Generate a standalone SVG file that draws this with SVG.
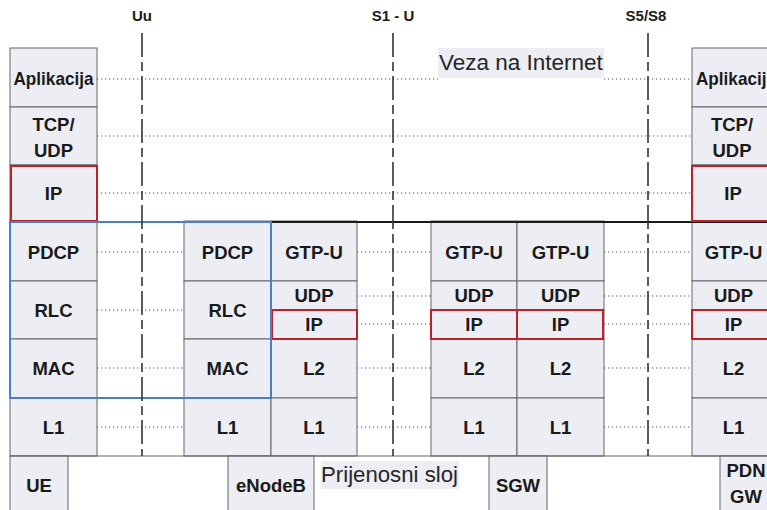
<svg xmlns="http://www.w3.org/2000/svg" width="767" height="510" viewBox="0 0 767 510">
  <style>
    .box { fill: #eceef3; stroke: #666; stroke-width: 1; }
    .ip { fill: none; stroke: #c0202a; stroke-width: 2; }
    .lbl { font-family: "Liberation Sans", Arial, sans-serif; font-weight: bold; font-size: 18.5px; fill: #1a1a1a; text-anchor: middle; }
    .ifc { font-family: "Liberation Sans", Arial, sans-serif; font-weight: bold; font-size: 15px; fill: #1a1a1a; text-anchor: middle; }
    .note { font-family: "Liberation Sans", Arial, sans-serif; font-size: 22.5px; fill: #262626; }
    .peer { stroke: #555; stroke-width: 1.2; stroke-dasharray: 1.2 2.8; fill: none; }
    .iface { stroke: #333; stroke-width: 1.6; stroke-dasharray: 24 5 9 5; fill: none; }
    .edge { stroke: #666; stroke-width: 1; fill: none; }
  </style>

  <rect width="767" height="510" fill="#fff"/>

  <!-- interface labels -->
  <text class="ifc" x="142" y="21">Uu</text>
  <text class="ifc" x="393" y="21">S1 - U</text>
  <text class="ifc" x="646" y="21">S5/S8</text>

  <!-- UE protocol stack -->
  <g id="ue">
    <rect class="box" x="10" y="48" width="87" height="59"/>
    <rect class="box" x="10" y="107" width="87" height="58"/>
    <rect class="box" x="10" y="165" width="87" height="56"/>
    <rect class="box" x="10" y="221" width="87" height="60"/>
    <rect class="box" x="10" y="281" width="87" height="58"/>
    <rect class="box" x="10" y="339" width="87" height="59"/>
    <rect class="box" x="10" y="398" width="87" height="58"/>
    <rect class="box" x="10" y="456" width="58" height="60"/>
    <rect class="ip" x="11" y="166" width="86" height="55"/>
    <text class="lbl" x="53.5" y="85" textLength="80" lengthAdjust="spacingAndGlyphs">Aplikacija</text>
    <text class="lbl" x="53.5" y="131">TCP/</text>
    <text class="lbl" x="53.5" y="157">UDP</text>
    <text class="lbl" x="53.5" y="200">IP</text>
    <text class="lbl" x="53.5" y="258.5">PDCP</text>
    <text class="lbl" x="53.5" y="316.5">RLC</text>
    <text class="lbl" x="53.5" y="375">MAC</text>
    <text class="lbl" x="53.5" y="433.5">L1</text>
    <text class="lbl" x="39" y="492">UE</text>
  </g>

  <!-- eNodeB protocol stack -->
  <g id="enodeb">
    <rect class="box" x="184" y="221" width="87" height="60"/>
    <rect class="box" x="184" y="281" width="87" height="58"/>
    <rect class="box" x="184" y="339" width="87" height="59"/>
    <rect class="box" x="184" y="398" width="87" height="58"/>
    <rect class="box" x="271" y="221" width="86" height="60"/>
    <rect class="box" x="271" y="281" width="86" height="29"/>
    <rect class="box" x="271" y="310" width="86" height="29"/>
    <rect class="box" x="271" y="339" width="86" height="59"/>
    <rect class="box" x="271" y="398" width="86" height="58"/>
    <rect class="box" x="228" y="456" width="86" height="60"/>
    <rect class="ip" x="272" y="310" width="85" height="29"/>
    <text class="lbl" x="227.5" y="258.5">PDCP</text>
    <text class="lbl" x="227.5" y="316.5">RLC</text>
    <text class="lbl" x="227.5" y="375">MAC</text>
    <text class="lbl" x="227.5" y="433.5">L1</text>
    <text class="lbl" x="314" y="258.5">GTP-U</text>
    <text class="lbl" x="314" y="302">UDP</text>
    <text class="lbl" x="314" y="331">IP</text>
    <text class="lbl" x="314" y="375">L2</text>
    <text class="lbl" x="314" y="433.5">L1</text>
    <text class="lbl" x="271" y="492">eNodeB</text>
  </g>

  <!-- SGW protocol stack -->
  <g id="sgw">
    <rect class="box" x="431" y="221" width="86" height="60"/>
    <rect class="box" x="431" y="281" width="86" height="29"/>
    <rect class="box" x="431" y="310" width="86" height="29"/>
    <rect class="box" x="431" y="339" width="86" height="59"/>
    <rect class="box" x="431" y="398" width="86" height="58"/>
    <rect class="box" x="517" y="221" width="87" height="60"/>
    <rect class="box" x="517" y="281" width="87" height="29"/>
    <rect class="box" x="517" y="310" width="87" height="29"/>
    <rect class="box" x="517" y="339" width="87" height="59"/>
    <rect class="box" x="517" y="398" width="87" height="58"/>
    <rect class="box" x="489" y="456" width="58" height="60"/>
    <rect class="ip" x="431" y="310" width="86" height="29"/>
    <rect class="ip" x="517" y="310" width="86" height="29"/>
    <text class="lbl" x="474" y="258.5">GTP-U</text>
    <text class="lbl" x="474" y="302">UDP</text>
    <text class="lbl" x="474" y="331">IP</text>
    <text class="lbl" x="474" y="375">L2</text>
    <text class="lbl" x="474" y="433.5">L1</text>
    <text class="lbl" x="560.5" y="258.5">GTP-U</text>
    <text class="lbl" x="560.5" y="302">UDP</text>
    <text class="lbl" x="560.5" y="331">IP</text>
    <text class="lbl" x="560.5" y="375">L2</text>
    <text class="lbl" x="560.5" y="433.5">L1</text>
    <text class="lbl" x="518" y="492">SGW</text>
  </g>

  <!-- PDN GW protocol stack (runs past the right edge) -->
  <g id="pdngw">
    <rect class="box" x="692" y="48" width="87" height="59"/>
    <rect class="box" x="692" y="107" width="87" height="58"/>
    <rect class="box" x="692" y="165" width="87" height="56"/>
    <rect class="box" x="692" y="221" width="87" height="60"/>
    <rect class="box" x="692" y="281" width="87" height="29"/>
    <rect class="box" x="692" y="310" width="87" height="29"/>
    <rect class="box" x="692" y="339" width="87" height="59"/>
    <rect class="box" x="692" y="398" width="87" height="58"/>
    <rect class="box" x="720" y="456" width="60" height="60"/>
    <rect class="ip" x="692" y="310" width="87" height="29"/>
    <text class="lbl" x="736" y="85" textLength="80" lengthAdjust="spacingAndGlyphs">Aplikacija</text>
    <text class="lbl" x="732" y="131">TCP/</text>
    <text class="lbl" x="732" y="157">UDP</text>
    <text class="lbl" x="733" y="200">IP</text>
    <text class="lbl" x="733.5" y="258.5">GTP-U</text>
    <text class="lbl" x="733.5" y="302">UDP</text>
    <text class="lbl" x="733.5" y="331">IP</text>
    <text class="lbl" x="733.5" y="375">L2</text>
    <text class="lbl" x="733.5" y="433.5">L1</text>
    <text class="lbl" x="746" y="477">PDN</text>
    <text class="lbl" x="746" y="503">GW</text>
  </g>

  <!-- transport and radio band outlines -->
  <g id="bands">
    <line class="edge" x1="10" y1="456" x2="767" y2="456"/>
    <line x1="271" y1="222" x2="767" y2="222" stroke="#1a1a1a" stroke-width="2"/>
    <rect x="10" y="222" width="261" height="176" fill="none" stroke="#4a7ec6" stroke-width="2"/>
    <rect class="ip" x="692" y="166" width="87" height="55"/>
  </g>

  <!-- captions -->
  <g id="captions">
    <rect x="438" y="48" width="166" height="30" fill="#eceef3"/>
    <text class="note" x="439" y="70">Veza na Internet</text>
    <rect x="321" y="461" width="138" height="28" fill="#eceef3"/>
    <text class="note" x="321" y="482" textLength="137" lengthAdjust="spacingAndGlyphs">Prijenosni sloj</text>
  </g>

  <!-- peer-to-peer links and interface boundaries -->
  <g id="connectors">
    <line class="peer" x1="97" y1="79" x2="438" y2="79"/>
    <line class="peer" x1="604" y1="79" x2="692" y2="79"/>
    <line class="peer" x1="97" y1="136" x2="692" y2="136"/>
    <line class="peer" x1="97" y1="193" x2="692" y2="193"/>

    <line class="peer" x1="97" y1="252" x2="184" y2="252"/>
    <line class="peer" x1="97" y1="310" x2="184" y2="310"/>
    <line class="peer" x1="97" y1="368" x2="184" y2="368"/>
    <line class="peer" x1="97" y1="427" x2="184" y2="427"/>

    <line class="peer" x1="357" y1="252" x2="431" y2="252"/>
    <line class="peer" x1="357" y1="296" x2="431" y2="296"/>
    <line class="peer" x1="357" y1="324" x2="431" y2="324"/>
    <line class="peer" x1="357" y1="368" x2="431" y2="368"/>
    <line class="peer" x1="357" y1="427" x2="431" y2="427"/>

    <line class="peer" x1="604" y1="252" x2="692" y2="252"/>
    <line class="peer" x1="604" y1="296" x2="692" y2="296"/>
    <line class="peer" x1="604" y1="324" x2="692" y2="324"/>
    <line class="peer" x1="604" y1="368" x2="692" y2="368"/>
    <line class="peer" x1="604" y1="427" x2="692" y2="427"/>

    <line class="iface" x1="142" y1="33" x2="142" y2="456"/>
    <line class="iface" x1="393" y1="33" x2="393" y2="456"/>
    <line class="iface" x1="648" y1="33" x2="648" y2="456"/>
  </g>
</svg>
